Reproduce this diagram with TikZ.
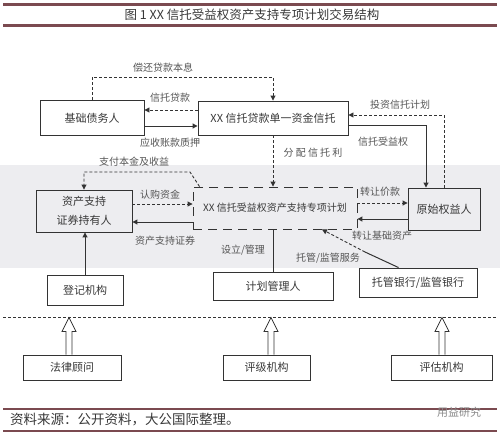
\documentclass[tikz,border=0pt]{standalone}
\usepackage{fontspec}
\setmainfont{Noto Sans CJK SC}
\usetikzlibrary{calc,arrows.meta}
\definecolor{hdr}{HTML}{7B4A50}
\definecolor{ln}{HTML}{333333}
\definecolor{tx}{HTML}{383838}
\definecolor{lb}{HTML}{555555}
\definecolor{band}{HTML}{EDEDF0}
\definecolor{wmc}{HTML}{8A8A8A}
\begin{document}
\begin{tikzpicture}[x=1pt,y=-1pt,
  box/.style={draw=ln, line width=0.9pt, text=tx, font=\fontsize{11}{19}\selectfont, align=center, inner sep=0pt},
  lbl/.style={text=lb, font=\fontsize{10}{12}\selectfont, inner sep=0pt},
  tip/.style={-{Triangle[length=5pt,width=5pt]}},
  darr/.style={draw=ln, line width=0.9pt, dash pattern=on 3pt off 2pt, tip},
  sarr/.style={draw=ln, line width=1pt, tip},
  sline/.style={draw=ln, line width=1pt},
  rule/.style={draw=hdr, line width=2.8pt},
  hollow/.style={draw=ln, line width=0.8pt, fill=white}]
\useasboundingbox (0,0) rectangle (500,434);
\fill[band] (0,165) rectangle (500,268);

% header
\draw[rule] (3,4.5) -- (497,4.5);
\draw[rule] (3,25.5) -- (497,25.5);
\node[text=tx, font=\fontsize{12.5}{14}\selectfont] (title) at (252,15) {图 1\ XX 信托受益权资产支持专项计划交易结构};

% boxes
\node[box, minimum width=104pt, minimum height=35pt] (debtor) at (92,118) {基础债务人};
\node[box, minimum width=150pt, minimum height=34pt] (trust) at (273,118) {XX 信托贷款单一资金信托};
\node[box, minimum width=96pt, minimum height=42pt] (holder) at (84,211) {资产支持\\证券持有人};
\node[box, dash pattern=on 9pt off 6pt, font=\fontsize{10}{12}\selectfont, minimum width=164pt, minimum height=42pt] (plan) at (275,208) {XX 信托受益权资产支持专项计划};
\node[box, minimum width=72pt, minimum height=42pt] (orig) at (444,209) {原始权益人};
\node[box, minimum width=76pt, minimum height=30pt] (reg) at (85,290) {登记机构};
\node[box, minimum width=120pt, minimum height=28pt] (mgr) at (273,286) {计划管理人};
\node[box, minimum width=118pt, minimum height=29pt] (bank) at (418,282.5) {托管银行/监管银行};
\node[box, minimum width=98pt, minimum height=25pt] (legal) at (72,367.5) {法律顾问};
\node[box, minimum width=87pt, minimum height=25pt] (rating) at (266.5,367.5) {评级机构};
\node[box, minimum width=101pt, minimum height=25pt] (eval) at (441.5,367.5) {评估机构};

% top connectors
\draw[darr] ($(trust.west)+(0,-8)$) -- ($(debtor.east)+(0,-8)$);
\draw[sarr] ($(debtor.east)+(0,8)$) -- ($(trust.west)+(0,8)$);
\draw[darr] (debtor.north) -- ++(0,-23) -| (trust.north);
\draw[darr] (orig.north) |- ($(trust.east)+(0,-3)$);
\draw[sarr] ($(trust.east)+(0,7)$) -| ($(orig.north)+(-18,0)$);
\draw[darr] (trust.south) -- (trust.south |- plan.north);

% middle connectors
\coordinate (pay) at (190,172);
\draw[darr] ($(plan.north west)+(7,0)$) -- (pay) -| (holder.north);
\draw[darr] ($(holder.east)+(0,-7)$) -- ($(plan.west)+(0,-4)$);
\draw[sarr] ($(plan.west)+(0,14)$) -- ($(holder.east)+(0,11)$);
\draw[darr] ($(plan.east)+(0,-5)$) -- ($(orig.west)+(0,-6)$);
\draw[sarr] ($(orig.west)+(0,10)$) -- ($(plan.east)+(0,11)$);
\draw[sline] (mgr.north) -- (mgr.north |- plan.south);
\coordinate (bk) at (365,252);
\draw[sline] ($(bank.north west)+(40,0)$) -- (bk);
\draw[darr] (bk) -- ($(plan.south)+(47,0)$);
\draw[sarr] (reg.north) -- (reg.north |- holder.south);

% separator and hollow arrows
\coordinate (sepL) at (3,317);
\coordinate (sepR) at (497,317);
\draw[ln, line width=0.8pt, dash pattern=on 3pt off 2pt] (sepL) -- (sepR);
\foreach \n/\dx in {legal/-3, rating/4.5, eval/0.5} {
  \draw[hollow] ($(\n.north)+(\dx,0)$) ++(-3,0) -- ++(0,-23) -- ++(-4,0) -- ++(7,-14) -- ++(7,14) -- ++(-4,0) -- ++(0,23);
}

% labels
\node[lbl] (l1) at (163,68) {偿还贷款本息};
\node[lbl] (l2) at (170,98) {信托贷款};
\node[lbl] (l3) at (170,143) {应收账款质押};
\node[lbl] (l4) at (400,105) {投资信托计划};
\node[lbl] (l5) at (383,142) {信托受益权};
\node[lbl] (l6) at (313,153) {分 配 信 托 利};
\node[lbl] (l7) at (134,162) {支付本金及收益};
\node[lbl] (l8) at (160,195) {认购资金};
\node[lbl] (l9) at (165,241) {资产支持证券};
\node[lbl] (l10) at (380,192) {转让价款};
\node[lbl] (l11) at (382,236) {转让基础资产};
\node[lbl] (l12) at (243,250) {设立/管理};
\node[lbl] (l13) at (328,258) {托管/监管服务};

% footer
\draw[rule] (3,409) -- (497,409);
\draw[rule] (3,431) -- (497,431);
\node[anchor=west, text=tx, font=\fontsize{13.5}{15}\selectfont, inner sep=0pt] (src) at (10,420) {资料来源：公开资料，大公国际整理。};
\node[text=wmc, font=\fontsize{11}{13}\selectfont, inner sep=0pt] (wm) at (459,412) {用益研究};
\end{tikzpicture}
\end{document}
